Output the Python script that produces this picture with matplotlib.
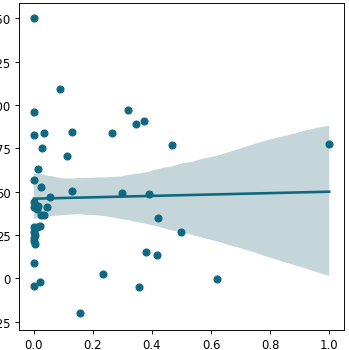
import numpy as np
import pandas as pd
import matplotlib
matplotlib.use('Agg')
import matplotlib.pyplot as plt
import seaborn as sns

# values
pct_over_guess = [0.0, 0.089, 0.0, 0.319, 0.373, 0.347, 0.0, 0.035, 0.129, 0.266,
                  0.029, 0.113, 0.467, 1.0, 0.016, 0.0, 0.023, 0.129, 0.297, 0.39,
                  0.056, 0.0, 0.0, 0.011, 0.016, 0.046, 0.026, 0.035, 0.422, 0.499,
                  0.0, 0.01, 0.02, 0.0, 0.005, 0.002, 0.0, 0.003, 0.0, 0.0,
                  0.02, 0.235, 0.381, 0.416, 0.357, 0.621, 0.156]
phm = [150, 109, 96, 97, 90.5, 89, 83, 84, 84.5, 84,
       75, 70.5, 77, 77.7, 63, 57, 52.5, 50.7, 49.3, 48.5,
       47, 44, 41, 40, 41.5, 41, 36.5, 36.5, 35, 26.7,
       29.4, 29.4, 30, 27, 25, 23.5, 21.5, 19.6, 9, -4.6,
       -2.1, 2.3, 15.5, 13.8, -5, -0.2, -20]
xticks = [0.0, 0.2, 0.4, 0.6, 0.8, 1.0]
yticks = [-25, 0, 25, 50, 75, 100, 125, 150]

df = pd.DataFrame({'x': pct_over_guess, 'y': phm})

point_color = '#0e6980'
band_color = '#c4d6da'

fig = plt.figure(figsize=(4.2, 4.212), dpi=83.33)
ax = fig.add_axes([19/350, 20/351, 325/350, 327/351])

sns.regplot(data=df, x='x', y='y', ax=ax, color=point_color, seed=3,
            scatter_kws={'alpha': 1, 's': 36})

# make the confidence band opaque and put it under the points
for coll in ax.collections[1:]:
    coll.set_facecolor(band_color)
    coll.set_alpha(1)
    coll.set_edgecolor('none')
    coll.set_zorder(0.5)

ax.set_xticks(xticks)
ax.set_yticks(yticks)
ax.set_xlim(-0.05, 1.05)
ax.set_ylim(-29.7, 158.8)
ax.set_xlabel('% Over Simple Guess vs PHM', labelpad=1)
ax.set_ylabel('')

fig.savefig('out.png', dpi=83.33)
